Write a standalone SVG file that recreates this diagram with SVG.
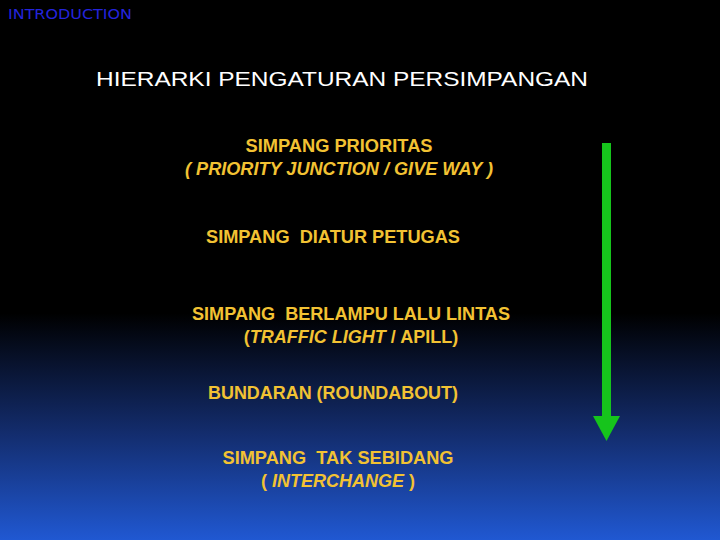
<svg xmlns="http://www.w3.org/2000/svg" width="720" height="540" viewBox="0 0 720 540">
<defs>
<linearGradient id="bg" x1="0" y1="0" x2="0" y2="1">
<stop offset="0" stop-color="#000000"/>
<stop offset="0.58" stop-color="#000000"/>
<stop offset="0.8" stop-color="#132c6c"/>
<stop offset="1" stop-color="#2058d2"/>
</linearGradient>
<style>
.y{font-family:"Liberation Sans",Arial,sans-serif;font-size:18px;font-weight:bold;fill:#f2c233;text-anchor:middle}
.i{font-style:italic}
</style>
</defs>
<rect width="720" height="540" fill="url(#bg)"/>
<text x="8" y="19" font-family="'DejaVu Sans',sans-serif" font-size="14" fill="#2424dc" textLength="124" lengthAdjust="spacingAndGlyphs">INTRODUCTION</text>
<text x="342" y="86" font-family="'Liberation Sans',Arial,sans-serif" font-size="21" fill="#ffffff" text-anchor="middle" textLength="492" lengthAdjust="spacingAndGlyphs">HIERARKI PENGATURAN PERSIMPANGAN</text>
<g id="n1">
<text class="y" x="339" y="152" textLength="187" lengthAdjust="spacingAndGlyphs">SIMPANG PRIORITAS</text>
<text class="y i" x="339" y="175" textLength="308" lengthAdjust="spacingAndGlyphs">( PRIORITY JUNCTION / GIVE WAY )</text>
</g>
<g id="n2">
<text class="y" x="333" y="243" xml:space="preserve" textLength="254" lengthAdjust="spacingAndGlyphs">SIMPANG  DIATUR PETUGAS</text>
</g>
<g id="n3">
<text class="y" x="351" y="320" xml:space="preserve" textLength="318" lengthAdjust="spacingAndGlyphs">SIMPANG  BERLAMPU LALU LINTAS</text>
<text class="y" x="351" y="343">(<tspan class="i">TRAFFIC LIGHT</tspan> / APILL)</text>
</g>
<g id="n4">
<text class="y" x="333" y="399" textLength="250" lengthAdjust="spacingAndGlyphs">BUNDARAN (ROUNDABOUT)</text>
</g>
<g id="n5">
<text class="y" x="338" y="464" xml:space="preserve" textLength="231" lengthAdjust="spacingAndGlyphs">SIMPANG  TAK SEBIDANG</text>
<text class="y" x="338" y="487">( <tspan class="i">INTERCHANGE</tspan> )</text>
</g>
<g id="connectors">
<rect x="602" y="143" width="9" height="276" fill="#16c41c"/>
<polygon points="593,416 620,416 606.5,441" fill="#16c41c"/>
</g>
</svg>
